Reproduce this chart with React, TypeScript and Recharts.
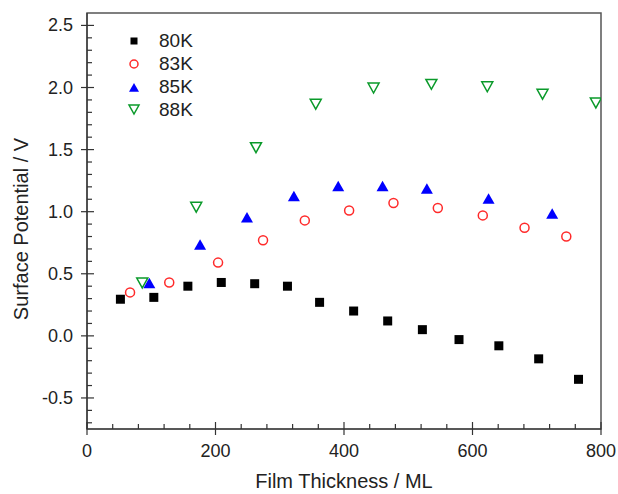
import { ScatterChart, Scatter, XAxis, YAxis, Legend, ReferenceArea, Label } from "recharts";

const FONT = '"Liberation Sans", Arial, sans-serif';

// film thickness (ML) and surface potential (V) per temperature
const x80K = [52, 104, 157, 209, 261, 312, 362, 415, 468, 522, 579, 641, 703, 765];
const y80K = [0.295, 0.31, 0.4, 0.43, 0.42, 0.4, 0.27, 0.2, 0.12, 0.05, -0.03, -0.08, -0.185, -0.35];

const x83K = [67, 128, 204, 274, 339, 408, 477, 546, 616, 681, 746];
const y83K = [0.35, 0.43, 0.59, 0.77, 0.93, 1.01, 1.07, 1.03, 0.97, 0.87, 0.8];

const x85K = [97, 176, 249, 322, 391, 460, 529, 625, 724];
const y85K = [0.42, 0.73, 0.95, 1.12, 1.2, 1.2, 1.18, 1.1, 0.98];

const x88K = [86, 170, 263, 356, 446, 536, 623, 709, 792];
const y88K = [0.43, 1.04, 1.52, 1.87, 2.0, 2.03, 2.01, 1.95, 1.88];

const xTicks = [0, 40, 80, 120, 160, 200, 240, 280, 320, 360, 400, 440, 480, 520, 560, 600, 640, 680, 720, 760, 800];
const yTicks = [
  -0.7, -0.6, -0.5, -0.4, -0.3, -0.2, -0.1, 0, 0.1, 0.2, 0.3, 0.4, 0.5, 0.6, 0.7, 0.8, 0.9, 1.0, 1.1, 1.2, 1.3, 1.4,
  1.5, 1.6, 1.7, 1.8, 1.9, 2.0, 2.1, 2.2, 2.3, 2.4, 2.5,
];

const toPoints = (xs: number[], ys: number[]) => xs.map((x, i) => ({ x, y: ys[i] }));

const RED = "#ff2a2a";
const BLUE = "#0000ff";
const GREEN = "#0a9a2a";

const Square = ({ cx, cy, s = 9 }: any) => <rect x={cx - s / 2} y={cy - s / 2} width={s} height={s} fill="#000" />;
const Circle = ({ cx, cy, r = 4.5 }: any) => <circle cx={cx} cy={cy} r={r} fill="none" stroke={RED} strokeWidth={1.5} />;
const TriUp = ({ cx, cy, s = 6 }: any) => (
  <polygon points={`${cx},${cy - s} ${cx + s},${cy + s * 0.75} ${cx - s},${cy + s * 0.75}`} fill={BLUE} />
);
const TriDown = ({ cx, cy, s = 5.5 }: any) => (
  <polygon
    points={`${cx - s},${cy - s * 0.8} ${cx + s},${cy - s * 0.8} ${cx},${cy + s}`}
    fill="none"
    stroke={GREEN}
    strokeWidth={1.5}
  />
);

const XTick = ({ x, y, payload }: any) => {
  const v = payload.value;
  const major = v % 200 === 0;
  return (
    <g>
      <line x1={x} x2={x} y1={major ? y - 7 : y - 5} y2={major ? y + 6 : y} stroke="#333" strokeWidth={1.2} />
      {major && (
        <text x={x} y={y + 28} textAnchor="middle" fontSize={18} fill="#222" fontFamily={FONT}>
          {v}
        </text>
      )}
    </g>
  );
};

const YTick = ({ x, y, payload }: any) => {
  const v = payload.value;
  const major = Math.abs(v * 2 - Math.round(v * 2)) < 1e-6;
  return (
    <g>
      <line x1={major ? x - 6 : x} x2={major ? x + 7 : x + 5} y1={y} y2={y} stroke="#333" strokeWidth={1.2} />
      {major && (
        <text x={x - 14} y={y} textAnchor="end" dominantBaseline="central" fontSize={18} fill="#222" fontFamily={FONT}>
          {v.toFixed(1)}
        </text>
      )}
    </g>
  );
};

const legendItems = [
  { name: "80K", Icon: () => <Square cx={8} cy={8} s={7} /> },
  { name: "83K", Icon: () => <Circle cx={8} cy={8} r={4} /> },
  { name: "85K", Icon: () => <TriUp cx={8} cy={9} s={5} /> },
  { name: "88K", Icon: () => <TriDown cx={8} cy={7} s={5} /> },
];

const renderLegend = () => (
  <div style={{ fontFamily: FONT, fontSize: 19, color: "#222" }}>
    {legendItems.map(({ name, Icon }) => (
      <div key={name} style={{ display: "flex", alignItems: "center", height: 23 }}>
        <svg width={16} height={16} style={{ marginRight: 17 }}>
          <Icon />
        </svg>
        <span>{name}</span>
      </div>
    ))}
  </div>
);

export default function App() {
  return (
    <div style={{ position: "absolute", left: 0, top: 0, width: 618, height: 494, background: "#fff" }}>
      <ScatterChart width={618} height={494} margin={{ top: 13, right: 17, bottom: 25, left: 27 }}>
        <XAxis
          type="number"
          dataKey="x"
          domain={[0, 800]}
          ticks={xTicks}
          interval={0}
          height={40}
          tickSize={0}
          tickMargin={0}
          tickLine={false}
          tick={<XTick />}
          axisLine={{ stroke: "#333", strokeWidth: 1.2 }}
          allowDataOverflow
        >
          <Label
            content={() => (
              <text x={344} y={488} textAnchor="middle" fontSize={20} fill="#222" fontFamily={FONT}>
                Film Thickness / ML
              </text>
            )}
          />
        </XAxis>
        <YAxis
          type="number"
          dataKey="y"
          domain={[-0.75, 2.6]}
          ticks={yTicks}
          interval={0}
          width={60}
          tickSize={0}
          tickMargin={0}
          tickLine={false}
          tick={<YTick />}
          axisLine={{ stroke: "#333", strokeWidth: 1.2 }}
          allowDataOverflow
        >
          <Label
            content={() => (
              <text
                x={21}
                y={229}
                transform="rotate(-90, 21, 229)"
                textAnchor="middle"
                dominantBaseline="central"
                fontSize={20}
                fill="#222"
                fontFamily={FONT}
              >
                Surface Potential / V
              </text>
            )}
          />
        </YAxis>
        <ReferenceArea x1={0} x2={800} y1={-0.75} y2={2.6} fill="none" stroke="#555" strokeWidth={1.5} />
        <Legend
          layout="vertical"
          align="center"
          verticalAlign="middle"
          content={renderLegend}
          wrapperStyle={{ left: 126, top: 29, width: 100 }}
        />
        <Scatter name="80K" data={toPoints(x80K, y80K)} shape={(p: any) => <Square {...p} />} isAnimationActive={false} />
        <Scatter name="83K" data={toPoints(x83K, y83K)} shape={(p: any) => <Circle {...p} />} isAnimationActive={false} />
        <Scatter name="85K" data={toPoints(x85K, y85K)} shape={(p: any) => <TriUp {...p} />} isAnimationActive={false} />
        <Scatter name="88K" data={toPoints(x88K, y88K)} shape={(p: any) => <TriDown {...p} />} isAnimationActive={false} />
      </ScatterChart>
    </div>
  );
}
